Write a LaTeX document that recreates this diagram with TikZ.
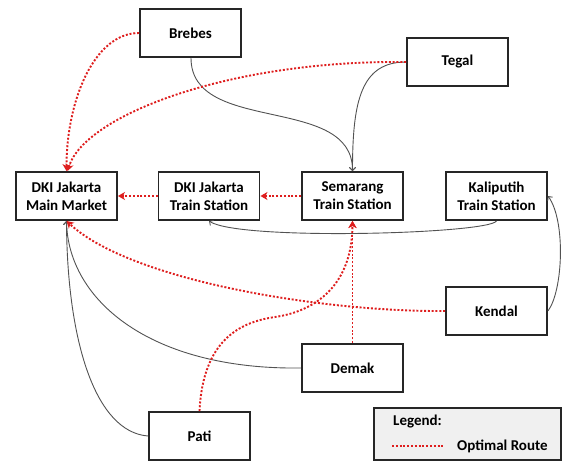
\documentclass[tikz,border=0pt]{standalone}
\usepackage{fontspec}
\setmainfont{Carlito}
\usetikzlibrary{arrows.meta}
\definecolor{routered}{RGB}{222,30,30}
\definecolor{legendfill}{RGB}{240,240,240}
\begin{document}
\begin{tikzpicture}[x=1pt,y=-1pt,
  place/.style={draw=black!85,line width=1.9pt,fill=white,minimum width=101pt,minimum height=48pt,
    align=center,inner sep=0pt,font=\fontsize{15}{18}\selectfont\bfseries},
  link/.style={draw=black!68,line width=0.9pt,-{Straight Barb[length=3pt,width=6pt]}},
  route/.style={draw=routered,line width=1.9pt,dash pattern=on 2pt off 1.8pt},
  routearrow/.style={route,-{Stealth[length=7pt,width=8pt,inset=2pt]}},
  lbl/.style={font=\fontsize{15}{18}\selectfont\bfseries,inner sep=0pt,anchor=west}]
\useasboundingbox (0,0) rectangle (563,461);

% locations
\node[place] (brebes) at (190.5,33) {Brebes};
\node[place] (tegal)  at (457.5,62) {Tegal};
\node[place] (mm)     at (66.5,196) {DKI Jakarta\\Main Market};
\node[place] (dkits)  at (209,196)  {DKI Jakarta\\Train Station};
\node[place] (sem)    at (352.5,196) {Semarang\\Train Station};
\node[place] (kal)    at (496.5,196) {Kaliputih\\Train Station};
\node[place] (ken)    at (496.5,311) {Kendal};
\node[place] (dem)    at (352.5,368) {Demak};
\node[place] (pati)   at (199.5,436) {Pati};

% ordinary connections
\draw[link] ([xshift=0.5pt]brebes.south) .. controls +(0,77) and +(0,-77) .. (sem.north);
\draw[link] (tegal.west) .. controls +(-45,0) and +(0,-70) .. (sem.north);
\draw[link] (kal.south) .. controls +(-8,13) and +(30,20) .. (dkits.south);
\draw[link] (ken.east) .. controls +(15,-20) and +(18,25) .. (kal.east);
\draw[link] (dem.west) .. controls (150,370) and (68,300) .. (mm.south);
\draw[link] (pati.west) .. controls (95,432) and (67,340) .. (mm.south);

% optimal routes
\draw[routearrow] (brebes.west) .. controls +(-45,0) and +(0,-70) .. (mm.north);
\draw[routearrow] (tegal.west) .. controls (230,60) and (85,115) .. ([xshift=1pt]mm.north);
\draw[routearrow] (dkits.west) -- (mm.east);
\draw[routearrow] (sem.west) -- (dkits.east);
\draw[routearrow] (ken.west) .. controls (320,312) and (130,280) .. (mm.south);
\draw[routearrow] (dem.north) -- (sem.south);
\coordinate (patibend) at (275,317);
\draw[routearrow] (pati.north) .. controls (203,340) and (240,322) .. (patibend)
  .. controls (310,312) and (352,290) .. (sem.south);

% legend
\node[draw=black!85,line width=1.9pt,fill=legendfill,minimum width=187pt,minimum height=52pt,inner sep=0pt]
  (legend) at (467.5,434) {};
\node[lbl] (legendtitle) at (393,422) {Legend:};
\coordinate (keystart) at (392,446);
\coordinate (keyend) at (443,446);
\draw[route] (keystart) -- (keyend);
\node[lbl] (keytext) at (457,446) {Optimal Route};
\end{tikzpicture}
\end{document}
